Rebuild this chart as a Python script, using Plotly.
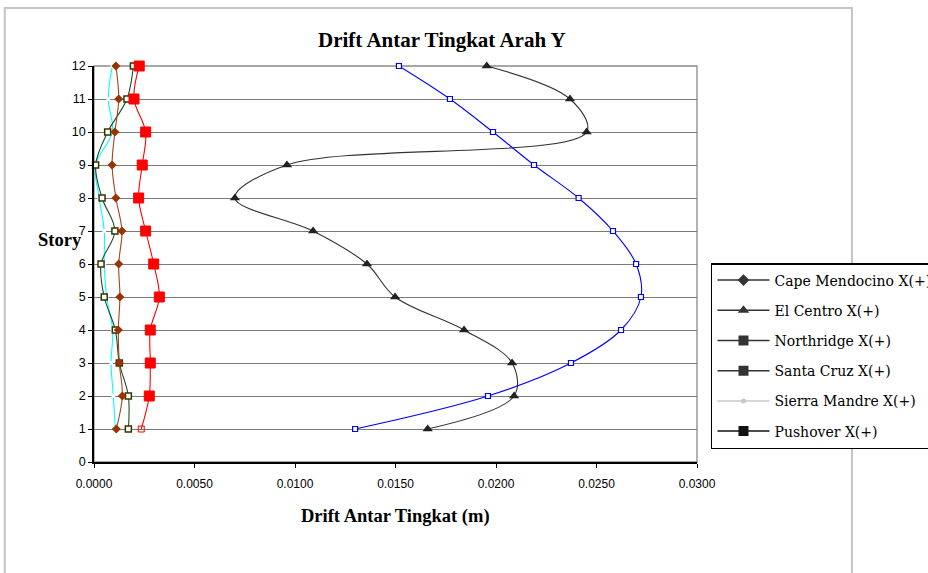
import plotly.graph_objects as go

stories = [1, 2, 3, 4, 5, 6, 7, 8, 9, 10, 11, 12]
x_ticks = [0.0, 0.005, 0.01, 0.015, 0.02, 0.025, 0.03]
y_ticks = list(range(0, 13))

cape_mendocino = [0.00111, 0.00141, 0.00126, 0.00121, 0.00129, 0.00123, 0.00139, 0.00109, 0.00090, 0.00104, 0.00123, 0.00109]
el_centro = [0.01660, 0.02090, 0.02080, 0.01841, 0.01498, 0.01358, 0.01090, 0.00701, 0.00960, 0.02451, 0.02368, 0.01954]
northridge = [0.00235, 0.00275, 0.00280, 0.00280, 0.00325, 0.00297, 0.00257, 0.00222, 0.00240, 0.00257, 0.00199, 0.00225]
santa_cruz = [0.00171, 0.00171, 0.00126, 0.00106, 0.00051, 0.00035, 0.00104, 0.00040, 0.00008, 0.00068, 0.00164, 0.00196]
sierra_madre = [0.00106, 0.00096, 0.00085, 0.00093, 0.00063, 0.00051, 0.00051, 0.00026, 0.00008, 0.00091, 0.00071, 0.00091]
pushover = [0.01299, 0.01960, 0.02373, 0.02622, 0.02721, 0.02697, 0.02582, 0.02411, 0.02189, 0.01985, 0.01771, 0.01517]

legend_names = ["Cape Mendocino X(+)", "El Centro X(+)", "Northridge X(+)",
                "Santa Cruz X(+)", "Sierra Mandre X(+)", "Pushover X(+)"]

fig = go.Figure()

def add(x, name, lcolor, msym, msize, mcolor, mline, mlinew=1):
    fig.add_trace(go.Scatter(
        x=x, y=stories, mode="lines+markers", name=name, showlegend=False,
        line=dict(color=lcolor, width=1.1, shape="spline", smoothing=1.0),
        marker=dict(symbol=msym, size=msize, color=mcolor, opacity=1,
                    line=dict(color=mline, width=mlinew)),
        cliponaxis=False))

add(sierra_madre, legend_names[4], "#00FFFF", "circle", 4, "white", "white", 0)
add(santa_cruz, legend_names[3], "#1F4A22", "square", 6, "white", "#333300", 1.5)
add(cape_mendocino, legend_names[0], "#A0461E", "diamond", 7, "#993300", "#993300", 0)
add(northridge, legend_names[2], "#FF0000",
    ["square-open"] + ["square"] * 11, [6] + [10] * 11, "#FF0000", "#FF0000", 1)
add(el_centro, legend_names[1], "#333333", "triangle-up", 9, "#222222", "#222222", 0)
add(pushover, legend_names[5], "#0000FF", "square", 5, "white", "#0000FF", 1.2)

# legend-only entries (grayscale, as in the reference legend)
leg_styles = [
    ("#333333", "diamond", 9, "#333333"),
    ("#333333", "triangle-up", 10, "#333333"),
    ("#333333", "square", 10, "#333333"),
    ("#333333", "square", 10, "#333333"),
    ("#C8C8C8", "circle", 5, "#C8C8C8"),
    ("#111111", "square", 10, "#111111"),
]
for i, (name, st) in enumerate(zip(legend_names, leg_styles)):
    lc, sym, sz, mc = st
    fig.add_trace(go.Scatter(
        x=[None], y=[None], mode="lines+markers", name=name,
        legendgroup="g%d" % i, showlegend=True,
        line=dict(color=lc, width=1.5), marker=dict(symbol=sym, size=sz, color=mc)))

fig.update_layout(
    width=928, height=573,
    margin=dict(l=94, r=231, t=66, b=111, autoexpand=False),
    paper_bgcolor="white", plot_bgcolor="white",
    showlegend=True,
    legend=dict(x=1.0232, y=0.5025, xanchor="left", yanchor="top",
                bgcolor="white", bordercolor="black", borderwidth=1.5,
                font=dict(family="DejaVu Serif", size=14, color="black"),
                tracegroupgap=9, itemwidth=52, traceorder="grouped"),
    xaxis=dict(range=[0, 0.03], tickvals=x_ticks, tickformat=".4f",
               showgrid=False, zeroline=False, showline=True, linecolor="black", linewidth=1.5,
               ticks="outside", ticklen=4, tickcolor="black", ticklabelstandoff=6,
               tickfont=dict(family="Liberation Sans", size=12, color="black")),
    yaxis=dict(range=[0, 12], tickvals=y_ticks, showgrid=True, gridcolor="#7a7a7a", gridwidth=1.3,
               zeroline=False, showline=True, linecolor="black", linewidth=1.5,
               ticks="outside", ticklen=4, tickcolor="black",
               tickfont=dict(family="Liberation Sans", size=12.5, color="black")),
    shapes=[
        dict(type="rect", xref="paper", yref="paper", x0=0, x1=1, y0=0, y1=1,
             line=dict(color="#8a8a8a", width=1.3), layer="below"),
        dict(type="rect", xref="paper", yref="paper", x0=-0.148, x1=1.257, y0=-0.5, y1=1.1465,
             line=dict(color="#C4C4C4", width=2), layer="below"),
    ],
    annotations=[
        dict(text="<b>Drift Antar Tingkat Arah Y</b>", xref="paper", yref="paper",
             x=0.577, y=1.0657, xanchor="center", yanchor="middle", showarrow=False,
             font=dict(family="Liberation Serif", size=21, color="black")),
        dict(text="<b>Drift Antar Tingkat (m)</b>", xref="paper", yref="paper",
             x=0.5, y=-0.138, xanchor="center", yanchor="middle", showarrow=False,
             font=dict(family="Liberation Serif", size=18.5, color="black")),
        dict(text="<b>Story</b>", xref="paper", yref="paper",
             x=-0.0564, y=0.5606, xanchor="center", yanchor="middle", showarrow=False,
             font=dict(family="Liberation Serif", size=18.5, color="black")),
    ],
)

fig.write_html("out.html")
